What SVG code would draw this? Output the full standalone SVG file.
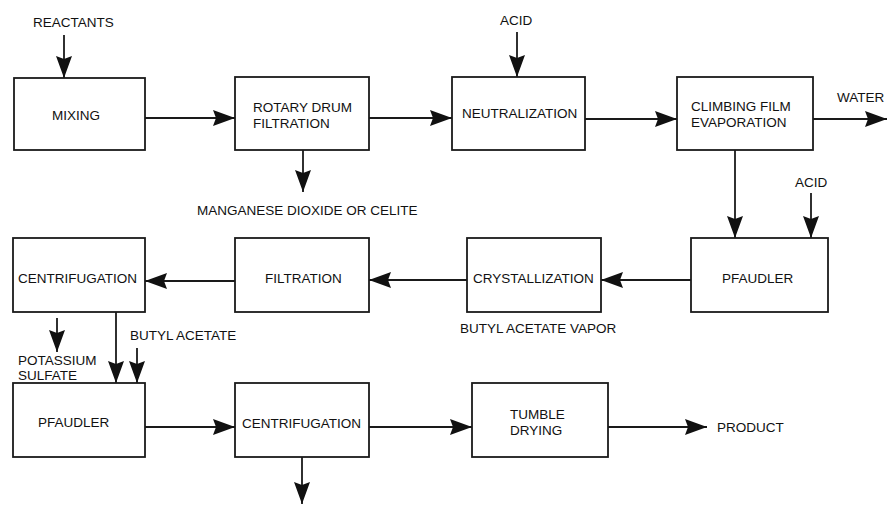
<svg xmlns="http://www.w3.org/2000/svg" width="887" height="505" viewBox="0 0 887 505">
<style>
.box{fill:#fff;stroke:#1a1a1a;stroke-width:1.8}
.ln{fill:none;stroke:#1a1a1a;stroke-width:1.8;marker-end:url(#ah)}
text{font-family:"Liberation Sans",Arial,sans-serif;font-size:13.5px;fill:#111}
</style>
<defs>
<marker id="ah" markerWidth="22" markerHeight="16" refX="22" refY="8" orient="auto" markerUnits="userSpaceOnUse">
<path d="M0,0 L22,8 L0,16 L3,8 z" fill="#111"/>
</marker>
</defs>
<rect width="887" height="505" fill="#fff"/>
<g id="connectors">
<line class="ln" x1="64" y1="35" x2="64" y2="78"/>
<line class="ln" x1="145" y1="118" x2="235" y2="118"/>
<line class="ln" x1="303" y1="150" x2="303" y2="192"/>
<line class="ln" x1="369" y1="118" x2="452" y2="118"/>
<line class="ln" x1="517" y1="32" x2="517" y2="77"/>
<line class="ln" x1="585" y1="119" x2="677" y2="119"/>
<line class="ln" x1="813" y1="119" x2="887" y2="119"/>
<line class="ln" x1="735" y1="150" x2="735" y2="238"/>
<line class="ln" x1="811" y1="193" x2="811" y2="238"/>
<line class="ln" x1="691" y1="280" x2="601" y2="280"/>
<line class="ln" x1="467" y1="280" x2="369" y2="280"/>
<line class="ln" x1="235" y1="281" x2="145" y2="281"/>
<line class="ln" x1="57" y1="318" x2="57" y2="352"/>
<line class="ln" x1="116" y1="312" x2="116" y2="383"/>
<line class="ln" x1="137" y1="348" x2="137" y2="383"/>
<line class="ln" x1="145" y1="427" x2="235" y2="427"/>
<line class="ln" x1="369" y1="427" x2="472" y2="427"/>
<line class="ln" x1="608" y1="427" x2="707" y2="427"/>
<line class="ln" x1="302" y1="457" x2="302" y2="504"/>
</g>
<g id="mixing"><rect class="box" x="14" y="78" width="131" height="72"/><text x="52" y="120">MIXING</text></g>
<g id="rotary"><rect class="box" x="235" y="77" width="134" height="73"/><text x="253" y="112">ROTARY DRUM</text><text x="253" y="128">FILTRATION</text></g>
<g id="neutralization"><rect class="box" x="452" y="77" width="133" height="73"/><text x="462" y="118">NEUTRALIZATION</text></g>
<g id="climbing"><rect class="box" x="677" y="77" width="136" height="73"/><text x="691" y="111">CLIMBING FILM</text><text x="691" y="127">EVAPORATION</text></g>
<g id="pfaudler1"><rect class="box" x="691" y="238" width="137" height="74"/><text x="722" y="283">PFAUDLER</text></g>
<g id="crystallization"><rect class="box" x="467" y="238" width="134" height="74"/><text x="473" y="283">CRYSTALLIZATION</text></g>
<g id="filtration"><rect class="box" x="235" y="238" width="134" height="74"/><text x="265" y="283">FILTRATION</text></g>
<g id="centrifugation1"><rect class="box" x="13" y="238" width="132" height="74"/><text x="18" y="283">CENTRIFUGATION</text></g>
<g id="pfaudler2"><rect class="box" x="13" y="383" width="132" height="74"/><text x="38" y="427">PFAUDLER</text></g>
<g id="centrifugation2"><rect class="box" x="235" y="383" width="134" height="74"/><text x="242" y="428">CENTRIFUGATION</text></g>
<g id="tumble"><rect class="box" x="472" y="383" width="136" height="74"/><text x="510" y="419">TUMBLE</text><text x="510" y="435">DRYING</text></g>
<g id="labels">
<text x="33" y="27">REACTANTS</text>
<text x="500" y="25">ACID</text>
<text x="197" y="215">MANGANESE DIOXIDE OR CELITE</text>
<text x="837" y="102">WATER</text>
<text x="795" y="187">ACID</text>
<text x="460" y="333">BUTYL ACETATE VAPOR</text>
<text x="18" y="365">POTASSIUM</text>
<text x="18" y="380">SULFATE</text>
<text x="130" y="340">BUTYL ACETATE</text>
<text x="717" y="432">PRODUCT</text>
</g>
</svg>
